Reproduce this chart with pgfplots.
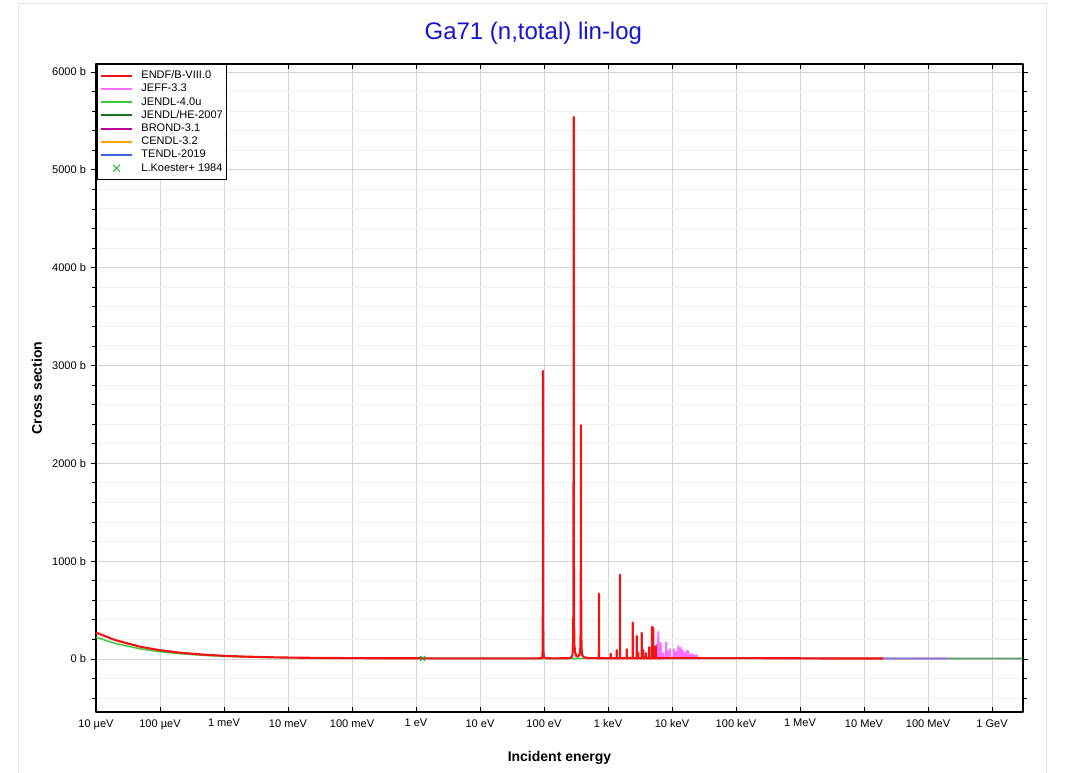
\documentclass[border=0pt]{standalone}
\usepackage{pgfplots}
\pgfplotsset{compat=1.18}
\usepackage{pgfplotstable}
\usepackage{fontspec}
\setmainfont{Liberation Sans}

\definecolor{cendf}{RGB}{240,20,20}
\definecolor{cjeff}{RGB}{255,110,255}
\definecolor{cjendl}{RGB}{60,200,60}
\definecolor{cjendlhe}{RGB}{25,110,35}
\definecolor{cbrond}{RGB}{190,0,150}
\definecolor{ccendl}{RGB}{255,165,0}
\definecolor{ctendl}{RGB}{60,100,220}
\definecolor{ckoester}{RGB}{30,170,30}
\definecolor{ctitle}{RGB}{20,20,210}

% ENDF/B-VIII.0
\pgfplotstableread{
E s
1e-5 270
2e-5 192.7
5e-5 124.1
1e-4 89.5
2e-4 65.0
5e-4 43.3
1e-3 32.4
2e-3 24.7
5e-3 17.8
1e-2 14.4
3e-2 10.8
0.1 8.6
0.3 7.5
1 6.8
3 6.5
10 6.3
30 6.2
80 6.5
92 8
94 22
95 70
95.7 250
96.1 1000
96.4 2945
96.7 1000
97.1 250
98 65
100 18
110 7
150 6.5
200 7
250 9
270 20
280 50
284 120
287 400
289 1108
290.2 2400
291 5540
291.8 2400
293 1108
295 400
298 150
305 70
320 30
340 25
360 45
370 110
374 300
376 900
377 1700
378 2390
379 1700
380 900
382 300
386 110
395 40
420 18
500 9
700 8
718 8
723 667
728 8
1095 8
1102 55
1109 8
1360 8
1368 90
1376 8
1532 8
1540 862
1548 8
1950 8
1959 100
1968 8
2420 8
2432 372
2444 8
2795 8
2808 236
2820 8
2960 8
2974 65
2988 8
3346 8
3362 267
3378 8
3548 8
3565 90
3582 8
3908 8
3927 60
3946 8
4397 8
4418 120
4439 8
4847 8
4870 330
4893 8
5080 8
5105 320
5130 8
5533 8
5560 130
5587 8
7000 8
1e4 8.5
1e5 9
1e6 6.8
3e6 5
1e7 5.5
2e7 5.2
}\endf

% JEFF-3.3 (part beyond the ENDF resolved range)
\pgfplotstableread{
E s
5600 8
5988 8
6049 277
6171 277
6232 8
6522 8
6588 167
6722 167
6788 8
7105 8
7178 60
7323 60
7395 8
7893 8
7973 170
8135 170
8215 8
8428 8
8514 80
8686 80
8772 8
9120 8
9213 100
9399 100
9492 8
10535 8
10642 100
10858 100
10965 8
11270 8
11385 70
11615 70
11730 8
12289 8
12415 133
12665 133
12791 8
13397 8
13533 115
13807 115
13943 8
14396 8
14543 90
14837 90
14984 8
15484 8
15642 60
15958 60
16116 8
16640 8
16810 85
17150 85
17320 8
17630 8
17810 80
18170 80
18350 8
19110 8
19305 45
19695 45
19890 8
20629 8
20839 50
21261 50
21471 8
22050 8
22275 35
22725 35
22950 8
23814 8
24057 40
24543 40
24786 8
3e4 8
1e5 9
1e6 6.8
3e6 5
1e7 5.5
2e7 5.2
1e8 4.2
2e8 3.8
}\jeff

% JENDL-4.0u
\pgfplotstableread{
E s
1e-5 222
2e-5 158.7
5e-5 102.6
1e-4 74.3
2e-4 54.3
5e-4 36.5
1e-3 27.6
2e-3 21.3
5e-3 15.7
1e-2 12.8
3e-2 10
0.1 8.2
0.3 7.2
1 6.7
3 6.4
10 6.3
5700 8
5768 150
5836 8
1e5 9
1e6 6.8
2e7 5.2
}\jendl

% JENDL/HE-2007 high-energy tail
\pgfplotstableread{
E s
2e7 5.2
1e8 4.5
1e9 4.0
3e9 4.0
}\jendlhe

% TENDL-2019 tail
\pgfplotstableread{
E s
2e7 5.2
1e8 4.2
2e8 3.8
}\tendl

\begin{document}
\begin{tikzpicture}
\useasboundingbox (0,0) rectangle (801.75pt,579.75pt);
\draw[black!10, line width=0.75pt] (13.5pt,-2pt) rectangle (784.5pt,576.75pt);
\begin{axis}[
  at={(72pt,45.75pt)}, anchor=south west,
  scale only axis, width=695.25pt, height=486pt,
  xmode=log, log basis x=10,
  xmin=1e-5, xmax=3.05e9, ymin=-542, ymax=6082,
  xtick={1e-5,1e-4,1e-3,1e-2,1e-1,1,10,100,1e3,1e4,1e5,1e6,1e7,1e8,1e9},
  xticklabels={10 µeV,100 µeV,1 meV,10 meV,100 meV,1 eV,10 eV,100 eV,1 keV,10 keV,100 keV,1 MeV,10 MeV,100 MeV,1 GeV},
  xminorticks=false,
  ytick={0,1000,2000,3000,4000,5000,6000},
  yticklabels={0 b,1000 b,2000 b,3000 b,4000 b,5000 b,6000 b},
  minor ytick={-400,-200,...,6000},
  grid=both,
  major grid style={color=black!17, line width=0.7pt},
  minor grid style={color=black!6, line width=0.7pt},
  axis line style={line width=0.9pt},
  tick style={black, line width=0.6pt},
  major tick length=4pt, minor tick length=3pt,
  ytick align=outside,
  ticklabel style={font=\fontsize{8.3}{10}\selectfont},
  xticklabel style={yshift=-2pt},
  every axis x label/.style={at={(axis description cs:0.5,0)}, yshift=-34.5pt, anchor=center},
  every axis y label/.style={at={(axis description cs:0,0.5)}, xshift=-44.25pt, rotate=90, anchor=center},
  label style={font=\bfseries\fontsize{10.5}{12}\selectfont},
  xlabel={Incident energy}, ylabel={Cross section},
  legend cell align=left,
  legend style={at={(axis description cs:0.001,1)}, anchor=north west,
    draw=black, line width=0.6pt, fill=white,
    font=\fontsize{8.25}{9}\selectfont, inner xsep=2pt, inner ysep=4pt, row sep=0.7pt,
    nodes={inner sep=0.6pt, text height=6.2pt, text depth=1.8pt},
    /tikz/every odd column/.append style={column sep=6pt}},
  legend image code/.code={\draw[#1, line width=1.5pt] (0pt,0pt) -- (23pt,0pt);},
  line join=round,
]
\addlegendimage{cendf}\addlegendentry{ENDF/B-VIII.0}
\addlegendimage{cjeff}\addlegendentry{JEFF-3.3}
\addlegendimage{cjendl}\addlegendentry{JENDL-4.0u}
\addlegendimage{cjendlhe}\addlegendentry{JENDL/HE-2007}
\addlegendimage{cbrond}\addlegendentry{BROND-3.1}
\addlegendimage{ccendl}\addlegendentry{CENDL-3.2}
\addlegendimage{ctendl}\addlegendentry{TENDL-2019}
\addlegendimage{legend image code/.code={\draw[ckoester, line width=0.7pt] (9pt,-2.6pt) -- (14.2pt,2.6pt) (9pt,2.6pt) -- (14.2pt,-2.6pt);}}\addlegendentry{L.Koester+ 1984}

\addplot[cjendl, line width=1.1pt, forget plot] table[x=E, y=s] {\jendl};
\addplot[cjendlhe!70!white, line width=1.3pt, forget plot] table[x=E, y=s] {\jendlhe};
\addplot[cjeff, line width=1.1pt, forget plot] table[x=E, y=s] {\jeff};
\addplot[ctendl, line width=1.3pt, opacity=0.5, forget plot] table[x=E, y=s] {\tendl};
\addplot[cendf, line width=1.6pt, forget plot] table[x=E, y=s] {\endf};
\addplot[only marks, mark=x, mark size=2.6pt, ckoester, line width=0.7pt, forget plot] coordinates {(1.27,7)};
\end{axis}
\node[font=\fontsize{18}{21}\selectfont, text=ctitle] at (400pt,555pt) {Ga71 (n,total) lin-log};
\end{tikzpicture}
\end{document}
